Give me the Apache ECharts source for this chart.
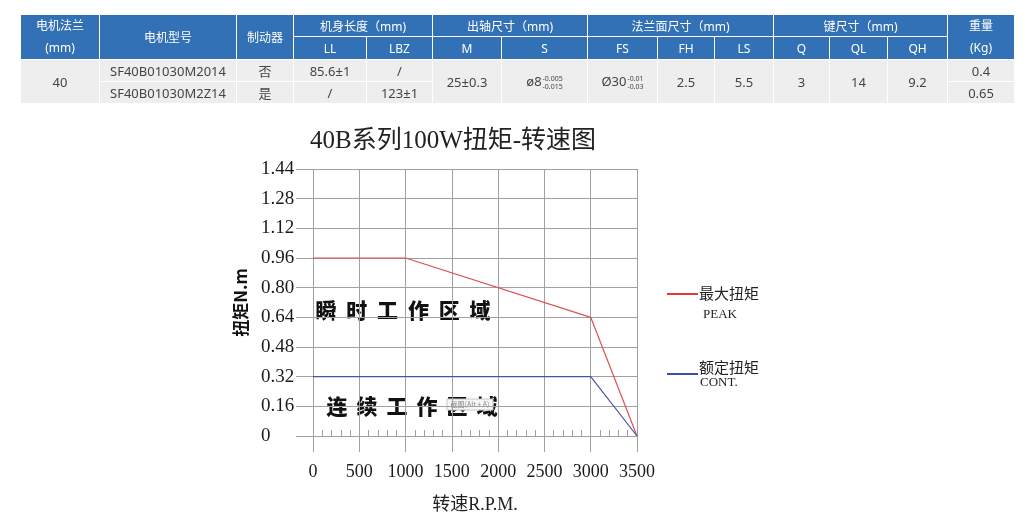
<!DOCTYPE html>
<html>
<head>
<meta charset="utf-8">
<script src="https://cdn.jsdelivr.net/npm/echarts@6/dist/echarts.min.js"></script>
<style>
  html, body { margin: 0; padding: 0; background: #fff; }
  #chart { position: absolute; left: 0; top: 0; width: 1035px; height: 532px; }
  table.spec {
    position: absolute; left: 20px; top: 14px; width: 994px; z-index: 2;
    border-collapse: collapse; table-layout: fixed; text-align: center;
    font-family: 'Noto Sans', 'Noto Sans CJK SC', sans-serif; font-size: 13px;
  }
  .spec th, .spec td { border: 1px solid #fff; padding: 0; }
  .spec th { background: #3271b5; color: #fff; font-weight: normal; font-size: 12px; }
  .spec td { background: #eeeeee; color: #444; }
  .spec tr.h1 { height: 22px; }
  .spec tr.h2 { height: 23px; }
  .spec tr.d { height: 22px; }
  .two div { height: 22px; line-height: 22px; }
  .tol { display: inline-block; vertical-align: middle; font-size: 7px; line-height: 8px; text-align: left; margin-left: 1px; }
  .tol span { display: block; }
</style>
</head>
<body>
<table class="spec">
  <colgroup>
    <col style="width:79px"><col style="width:137px"><col style="width:57px"><col style="width:73px">
    <col style="width:66px"><col style="width:69px"><col style="width:86px"><col style="width:70px">
    <col style="width:57px"><col style="width:59px"><col style="width:56px"><col style="width:58px">
    <col style="width:60px"><col style="width:67px">
  </colgroup>
  <tr class="h1">
    <th rowspan="2" class="two"><div>电机法兰</div><div>(mm)</div></th>
    <th rowspan="2">电机型号</th>
    <th rowspan="2">制动器</th>
    <th colspan="2">机身长度（mm)</th>
    <th colspan="2">出轴尺寸（mm)</th>
    <th colspan="3">法兰面尺寸（mm)</th>
    <th colspan="3">键尺寸（mm)</th>
    <th rowspan="2" class="two"><div>重量</div><div>(Kg)</div></th>
  </tr>
  <tr class="h2">
    <th>LL</th><th>LBZ</th><th>M</th><th>S</th><th>FS</th><th>FH</th><th>LS</th><th>Q</th><th>QL</th><th>QH</th>
  </tr>
  <tr class="d">
    <td rowspan="2">40</td>
    <td>SF40B01030M2014</td>
    <td>否</td>
    <td>85.6±1</td>
    <td>/</td>
    <td rowspan="2">25±0.3</td>
    <td rowspan="2">ø8<span class="tol"><span>-0.005</span><span>-0.015</span></span></td>
    <td rowspan="2">Ø30<span class="tol"><span>-0.01</span><span>-0.03</span></span></td>
    <td rowspan="2">2.5</td>
    <td rowspan="2">5.5</td>
    <td rowspan="2">3</td>
    <td rowspan="2">14</td>
    <td rowspan="2">9.2</td>
    <td>0.4</td>
  </tr>
  <tr class="d">
    <td>SF40B01030M2Z14</td>
    <td>是</td>
    <td>/</td>
    <td>123±1</td>
    <td>0.65</td>
  </tr>
</table>
<div id="chart"></div>
<script>
// 最大扭矩 PEAK
const peakSpeed = [0, 1000, 3000, 3500]
const peakTorque = [0.96, 0.96, 0.64, 0]
// 额定扭矩 CONT.
const contSpeed = [0, 3000, 3500]
const contTorque = [0.32, 0.32, 0]

const speedMax = 3500
const speedStep = 500
const torqueMax = 1.44
const torqueStep = 0.16

const gridColor = '#a0a0a0'
const serif = "'Liberation Serif', 'Noto Sans CJK SC', serif"

function pairs(xs, ys) {
  return xs.map((x, i) => [x, ys[i]])
}

// spaced characters for the two region labels
function spacedText(str, x0, pitch, y, size) {
  return str.split('').map((ch, i) => ({
    type: 'text',
    style: {
      text: ch,
      x: x0 + i * pitch,
      y: y,
      font: '900 ' + size + "px 'Noto Sans CJK SC'",
      fill: '#111',
      textAlign: 'center', align: 'center',
      textVerticalAlign: 'middle', verticalAlign: 'middle'
    }
  }))
}

function label(text, x, y, font, align) {
  return {
    type: 'text',
    style: {
      text: text, x: x, y: y, font: font, fill: '#222',
      textAlign: align || 'left', align: align || 'left',
      textVerticalAlign: 'middle', verticalAlign: 'middle'
    }
  }
}

const chart = echarts.init(document.getElementById('chart'))
chart.setOption({
  animation: false,
  grid: { left: 313, right: 398, top: 169, bottom: 96 },
  xAxis: [{
    type: 'value',
    min: 0,
    max: speedMax,
    interval: speedStep,
    name: '转速R.P.M.',
    nameLocation: 'middle',
    nameGap: 60,
    nameTextStyle: { fontSize: 18, fontFamily: serif, color: '#222' },
    axisLine: { show: false },
    axisTick: { show: true, length: 16, lineStyle: { color: gridColor } },
    axisLabel: { margin: 27, fontSize: 18, fontFamily: serif, color: '#1a1a1a', formatter: v => String(v) },
    splitLine: { show: true, lineStyle: { color: gridColor } }
  }, {
    // small ticks along the zero line
    type: 'value',
    min: 0,
    max: speedMax,
    interval: 100,
    position: 'bottom',
    axisLine: { show: false },
    axisTick: { show: true, inside: true, length: 6, lineStyle: { color: gridColor } },
    axisLabel: { show: false },
    splitLine: { show: false }
  }],
  yAxis: {
    type: 'value',
    min: 0,
    max: torqueMax,
    interval: torqueStep,
    name: '扭矩N.m',
    nameLocation: 'middle',
    nameGap: 64,
    nameRotate: 90,
    nameTextStyle: { fontSize: 17, fontWeight: 'bold', fontFamily: "'Noto Sans CJK SC'", color: '#111' },
    axisLine: { show: false },
    axisTick: { show: true, length: 17, lineStyle: { color: gridColor } },
    axisLabel: {
      margin: 52,
      align: 'left',
      fontSize: 19,
      fontFamily: serif,
      color: '#1a1a1a',
      formatter: v => (v === 0 ? '0' : v.toFixed(2))
    },
    splitLine: { show: true, lineStyle: { color: gridColor } }
  },
  series: [{
    name: '最大扭矩',
    type: 'line',
    symbol: 'none',
    lineStyle: { color: '#d9534f', width: 1.2 },
    data: pairs(peakSpeed, peakTorque)
  }, {
    name: '额定扭矩',
    type: 'line',
    symbol: 'none',
    lineStyle: { color: '#4a52a8', width: 1.2 },
    data: pairs(contSpeed, contTorque)
  }],
  graphic: [
    label('40B系列100W扭矩-转速图', 453, 141, '25px ' + serif, 'center'),
    ...spacedText('瞬时工作区域', 326, 30.8, 310, 21),
    ...spacedText('连续工作区域', 337, 30, 406, 21),
    {
      type: 'rect',
      shape: { x: 447, y: 399, width: 46, height: 11 },
      style: { fill: '#f6f6f6', stroke: '#c8c8c8', lineWidth: 1 }
    },
    {
      type: 'text',
      style: {
        text: '截图(Alt + A)', x: 470, y: 404.5, font: "7px 'Noto Sans CJK SC'", fill: '#888',
        textAlign: 'center', align: 'center', textVerticalAlign: 'middle', verticalAlign: 'middle'
      }
    },
    {
      type: 'line',
      shape: { x1: 667, y1: 294, x2: 698, y2: 294 },
      style: { stroke: '#e0393a', lineWidth: 2 }
    },
    label('最大扭矩', 699, 293, "15px 'Noto Sans CJK SC'"),
    label('PEAK', 703, 315, '13px ' + serif),
    {
      type: 'line',
      shape: { x1: 667, y1: 374, x2: 698, y2: 374 },
      style: { stroke: '#3b4fa8', lineWidth: 2 }
    },
    label('额定扭矩', 699, 367, "15px 'Noto Sans CJK SC'"),
    label('CONT.', 700, 383, '13px ' + serif)
  ]
})
</script>
</body>
</html>
